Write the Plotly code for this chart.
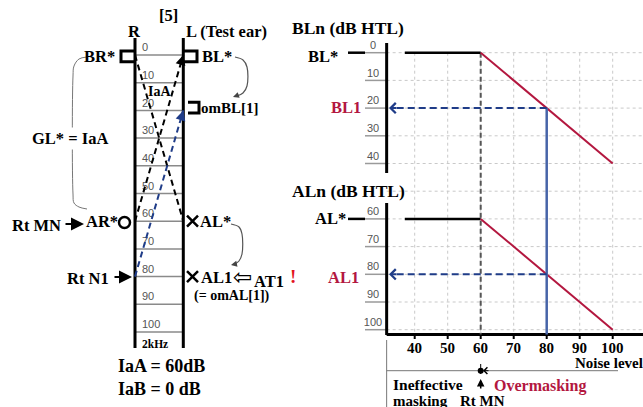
import plotly.graph_objects as go

W, H = 643, 407

# ---------------- data ----------------
ladder_levels = [0, 10, 20, 30, 40, 50, 60, 70, 80, 90, 100]
ladder_labels = ["0", "10", "20", "30", "40", "50", "60", "70", "80", "90", "100"]
br_star = 0       # BR*  (right bone threshold)
bl_star = 0       # BL*  (left bone threshold)
ar_star = 60      # AR*  (right air threshold)
al_star = 60      # AL*  (left air threshold)
rt_n1 = 80        # Rt N1 (masking noise level)
om_bl1 = 20       # omBL[1]
al1 = 80          # AL1

bln_ticks = [0, 10, 20, 30, 40]
aln_ticks = [60, 70, 80, 90, 100]
grid_levels = [0, 10, 20, 30, 40, 50, 60, 70, 80, 90, 100]
noise_ticks = [40, 50, 60, 70, 80, 90, 100]
noise_tick_labels = ["40", "50", "60", "70", "80", "90", "100"]

noise_x = [37, 60, 100]
bln_y = [0, 0, 40]
aln_y = [60, 60, 100]
rt_mn = 60
noise_n1 = 80
bl1 = 20
al1_level = 80

# ---------------- geometry (pixel layout) ----------------
LX0, LDX = 135.0, 48.3
LY0, LDY = 55.0, 2.77
RX60, RDX = 480.7, 3.3
RY0, RDY = 52.7, 2.77


def lx(p): return (p - LX0) / LDX
def ly(p): return (p - LY0) / LDY
def rx(p): return 60 + (p - RX60) / RDX
def ry(p): return (p - RY0) / RDY


SERIF = "Liberation Serif"
SANS = "Liberation Sans"
RED = "#b3173f"
NAVY = "#1f3c88"
BLUE = "#4664a8"
GRAY = "#8a8a8a"

fig = go.Figure()


def line(x, y, color="black", width=2, dash=None, ax="L", shape="linear"):
    xa, ya = ("x", "y") if ax == "L" else ("x2", "y2")
    fig.add_trace(go.Scatter(x=x, y=y, mode="lines", xaxis=xa, yaxis=ya,
                             line=dict(color=color, width=width, dash=dash, shape=shape),
                             hoverinfo="skip", showlegend=False))


# ---------------- ladder (left) ----------------
rx_, ry_ = [], []
for L in ladder_levels:
    rx_ += [0, 1, None]
    ry_ += [L, L, None]
line(rx_, ry_, color=GRAY, width=1.5)
line([0, 0, None, 1, 1], [ly(38), ly(348), None, ly(38), ly(348)], width=3)

fig.add_trace(go.Scatter(x=[lx(142)] * len(ladder_levels), y=[L - 2.4 for L in ladder_levels],
                         text=ladder_labels, mode="text", textposition="middle right",
                         textfont=dict(family=SANS, size=11, color="#555"),
                         xaxis="x", yaxis="y", hoverinfo="skip", showlegend=False))

# dashed crossings
line([0, 1], [br_star, al_star], dash="6px,4px", width=2)
line([0, 1], [ar_star, bl_star], dash="6px,4px", width=2)
line([0, 1], [rt_n1, om_bl1], color=NAVY, dash="6px,4px", width=2)

# brackets
h = 1.9
line([0, lx(121), lx(121), 0], [br_star + 0.5 - h, br_star + 0.5 - h, br_star + 0.5 + h, br_star + 0.5 + h], width=3)
line([1, lx(197), lx(197), 1], [bl_star + 0.5 - h, bl_star + 0.5 - h, bl_star + 0.5 + h, bl_star + 0.5 + h], width=3)
line([lx(188), lx(199), lx(199), lx(188)], [om_bl1 - 1 - h, om_bl1 - 1 - h, om_bl1 - 1 + h, om_bl1 - 1 + h], width=3)

# symbols
fig.add_trace(go.Scatter(x=[lx(124.5)], y=[ar_star + 0.5], mode="markers", xaxis="x", yaxis="y",
                         marker=dict(symbol="circle-open", size=11, color="black", line=dict(width=2.5)),
                         hoverinfo="skip", showlegend=False))
fig.add_trace(go.Scatter(x=[lx(192.5), lx(192.5)], y=[al_star, al1], mode="markers", xaxis="x", yaxis="y",
                         marker=dict(symbol="x-thin-open", size=11, color="black", line=dict(width=2.5, color="black")),
                         hoverinfo="skip", showlegend=False))

# connectors
c1 = [(235, 57), (243, 60), (247, 67), (247, 86), (243, 93), (237, 96)]
line([lx(p[0]) for p in c1], [ly(p[1]) for p in c1], color="#555", width=1.2, shape="spline")
c2 = [(231, 224), (239, 227), (242, 234), (242, 254), (239, 261), (235, 264)]
line([lx(p[0]) for p in c2], [ly(p[1]) for p in c2], color="#555", width=1.2, shape="spline")
brace = [(87, 57), (79, 59), (74, 66), (73, 76), (73, 194), (74, 203), (79, 207), (87, 209)]
line([lx(p[0]) for p in brace], [ly(p[1]) for p in brace], color="#777", width=1, shape="spline")

# ---------------- right charts ----------------
gx, gy = [], []
for L in grid_levels:
    gx += [31.5, rx(W), None]
    gy += [L, L, None]
for n in noise_ticks:
    gx += [n, n, None]
    gy += [0, ry(334.5), None]
line(gx, gy, color="#c9c9c9", width=1, dash="dot", ax="R")

tx, ty = [], []
for L in bln_ticks + aln_ticks:
    tx += [rx(365), 31.5, None]
    ty += [L, L, None]
line(tx, ty, color="#9a9a9a", width=1.5, ax="R")
fig.add_trace(go.Scatter(x=[rx(373)] * 10, y=[L - 2.4 for L in bln_ticks + aln_ticks],
                         text=[str(v) for v in bln_ticks + aln_ticks], mode="text",
                         textposition="middle center",
                         textfont=dict(family=SANS, size=11, color="#555"),
                         xaxis="x2", yaxis="y2", hoverinfo="skip", showlegend=False))

line([rx(348), rx(365)], [bl_star, bl_star], width=2.5, ax="R")
line([rx(348), rx(365)], [al_star, al_star], width=2.5, ax="R")

line([31.5, 31.5], [ry(43), ry(173)], width=3, ax="R")
line([31.5, 31.5], [ry(203), ry(335)], width=3, ax="R")
line([31.5, rx(W)], [ry(334.5), ry(334.5)], width=3, ax="R")
xt, yt = [], []
for n in noise_ticks:
    xt += [n, n, None]
    yt += [ry(334.5), ry(339), None]
line(xt, yt, width=2, ax="R")

# masking curves
line([rt_mn, rt_mn], [0, ry(334.5)], color="#555", width=2, dash="5px,3px", ax="R")
line(noise_x[:2], bln_y[:2], width=2.5, ax="R")
line(noise_x[1:], bln_y[1:], color=RED, width=2, ax="R")
line(noise_x[:2], aln_y[:2], width=2.5, ax="R")
line(noise_x[1:], aln_y[1:], color=RED, width=2, ax="R")
line([noise_n1, noise_n1], [bl1, ry(334.5)], color=BLUE, width=2.5, ax="R")
line([noise_n1, rx(392)], [bl1, bl1], color=NAVY, width=2, dash="7px,4px", ax="R")
line([noise_n1, rx(392)], [al1_level, al1_level], color=NAVY, width=2, dash="7px,4px", ax="R")

# bottom range bracket
line([31.5, 31.5], [ry(340), ry(H)], color="#777", width=1, ax="R")
line([31.5, rx(618)], [ry(370.7), ry(370.7)], color="#777", width=1, ax="R")
line([rt_mn, rt_mn], [ry(364), ry(374)], color="black", width=1, ax="R")
fig.add_trace(go.Scatter(x=[rt_mn], y=[ry(370.7)], mode="markers", xaxis="x2", yaxis="y2",
                         marker=dict(symbol="circle", size=6, color="black"),
                         hoverinfo="skip", showlegend=False))

# ---------------- annotations ----------------
ann = []


def text(xp, yp, s, size=16.5, color="black", xanchor="left", family=SERIF, bold=True, bg=None):
    d = dict(x=xp / W, y=1 - yp / H, xref="paper", yref="paper",
             text=f"<b>{s}</b>" if bold else s, showarrow=False,
             xanchor=xanchor, yanchor="middle", font=dict(family=family, size=size, color=color))
    if bg:
        d["bgcolor"] = bg
    ann.append(d)


def arrow(x, y, axp, ayp, xref="paper", yref="paper", color="black", width=2, head=2, size=1):
    ann.append(dict(x=x, y=y, xref=xref, yref=yref, ax=axp, ay=ayp, showarrow=True,
                    arrowhead=head, arrowwidth=width, arrowcolor=color, arrowsize=size,
                    text="", standoff=0))


# ladder arrowheads (direction along the dashed lines)
dxp, dyp = LDX * 1.0, LDY * (bl_star - ar_star)
norm = (dxp ** 2 + dyp ** 2) ** 0.5
arrow(1, bl_star, -dxp / norm * 9, -dyp / norm * 9, "x", "y", width=2, head=2)
arrow(1, om_bl1, -dxp / norm * 9, -dyp / norm * 9, "x", "y", color=NAVY, width=2, head=2)
arrow(lx(233), ly(97), 7, -2.5, "x", "y", color="#444", width=1.2, head=2)
arrow(lx(231), ly(265), 7, -1.5, "x", "y", color="#444", width=1.2, head=2)
arrow(84 / W, 1 - 224 / H, -20, 0, width=2, head=2, size=1.3)
arrow(132 / W, 1 - 277 / H, -19, 0, width=2, head=2, size=1.3)
# right chart arrowheads
arrow(rx(389), bl1, 9, 0, "x2", "y2", color=NAVY, width=2, head=4)
arrow(rx(389), al1_level, 9, 0, "x2", "y2", color=NAVY, width=2, head=4)
arrow(rx(483), ry(370.7), 7, 0, "x2", "y2", color="black", width=1, head=4, size=1.3)
arrow(rt_mn, ry(379), 0, 11, "x2", "y2", color="black", width=1.5, head=2)

text(157, 15, "[5]")
text(134, 31, "R", xanchor="center")
text(184, 31, "L (Test ear)")
text(117, 56, "BR*", xanchor="right")
text(200, 56, "BL*")
text(199, 108, "omBL[1]", size=15)
text(159, 91, "IaA", size=14, xanchor="center")
text(70, 138, "GL* = IaA", xanchor="center", bg="white")
text(63, 225, "Rt MN", xanchor="right")
text(84, 222, "AR*")
text(198, 221, "AL*")
text(111, 278, "Rt N1", xanchor="right")
text(199, 277, "AL1")
text(242.5, 276.5, "⇦", size=23, family="DejaVu Sans", bold=False, xanchor="center")
text(252, 281, "AT1")
text(293, 276, "!", size=19, color="#e3141e", xanchor="center")
text(192, 296, "(= omAL[1])", size=14)
text(140, 344, "2kHz", size=11.5)
text(116, 366, "IaA = 60dB", size=18)
text(116, 389, "IaB = 0 dB", size=18)

text(290, 28, "BLn (dB HTL)", size=17.5)
text(340, 56, "BL*", xanchor="right")
text(329, 108, "BL1", color=RED)
text(290, 191, "ALn (dB HTL)", size=17.5)
text(348, 219, "AL*", xanchor="right")
text(326, 277, "AL1", color=RED)
for n, lab in zip(noise_ticks, noise_tick_labels):
    ann.append(dict(x=n, y=ry(347.5), xref="x2", yref="y2", text=f"<b>{lab}</b>", showarrow=False,
                    xanchor="center", yanchor="middle", font=dict(family=SERIF, size=15, color="black")))
text(645, 362.5, "Noise level", size=15, xanchor="right")
text(391, 384, "Ineffective", size=15.5)
text(391, 400.5, "masking", size=15)
text(492, 386, "Overmasking", size=16, color=RED)
text(482, 400.5, "Rt MN", size=15, xanchor="center")

fig.update_layout(
    width=W, height=H, autosize=False,
    margin=dict(l=0, r=0, t=0, b=0),
    paper_bgcolor="white", plot_bgcolor="rgba(0,0,0,0)",
    showlegend=False,
    annotations=ann,
    xaxis=dict(domain=[0, 300 / W], range=[lx(0), lx(300)], visible=False, fixedrange=True),
    yaxis=dict(domain=[0, 1], range=[ly(H), ly(0)], visible=False, fixedrange=True, anchor="x"),
    xaxis2=dict(domain=[300 / W, 1], range=[rx(300), rx(W)], visible=False, fixedrange=True, anchor="y2"),
    yaxis2=dict(domain=[0, 1], range=[ry(H), ry(0)], visible=False, fixedrange=True, anchor="x2"),
)

fig.write_html("out.html", config={"displayModeBar": False},
               post_script="document.body.style.margin='0';document.body.style.overflow='hidden';")
